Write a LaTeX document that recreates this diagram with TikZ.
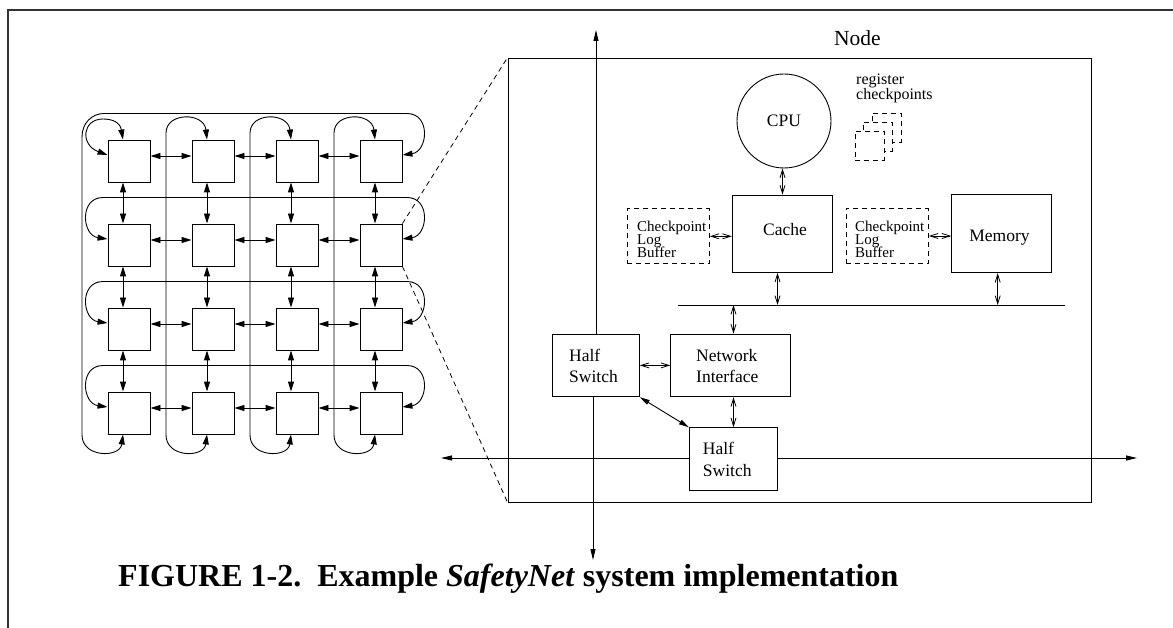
\documentclass[tikz,border=0pt]{standalone}
\usepackage{fontspec}
\setmainfont{Liberation Serif}
\usetikzlibrary{arrows.meta,calc}
\begin{document}
\begin{tikzpicture}[x=1pt,y=-1pt,
  gl/.style={line width=0.9pt},
  ga/.style={gl,{Triangle[length=10pt,width=6pt]}-{Triangle[length=10pt,width=6pt]}},
  sq/.style={draw,line width=0.9pt,minimum width=42pt,minimum height=42pt,inner sep=0pt},
  bx/.style={draw,line width=0.9pt,inner sep=0pt},
  dbx/.style={draw,line width=0.9pt,dash pattern=on 5pt off 4pt,inner sep=0pt},
  dsh/.style={line width=0.8pt,dash pattern=on 5pt off 4pt},
  oa/.style={line width=0.8pt,{Straight Barb[length=8pt,width=5pt]}-{Straight Barb[length=8pt,width=5pt]}},
  fa/.style={line width=0.9pt,-{Triangle[length=11pt,width=5pt]}},
  fda/.style={line width=0.9pt,{Triangle[length=10pt,width=5pt]}-{Triangle[length=10pt,width=5pt]}},
  lbl/.style={inner sep=0pt,anchor=base west,font=\fontsize{17.5}{21}\selectfont},
  sml/.style={inner sep=0pt,anchor=south west,align=left,font=\fontsize{15}{18}\selectfont},
]
\useasboundingbox (0,0) rectangle (1173,628);
% frame
\draw[line width=2pt,black!80] (1173,10) -- (8,10) -- (8,628);

% ---------- torus grid ----------
\foreach \i in {0,...,3}{
  \foreach \j in {0,...,3}{
    \node[sq] (n\i\j) at ({129+84*\i},{161+84*\j}) {};
  }
}
\foreach \i in {0,1,2}{
  \pgfmathtruncatemacro\k{\i+1}
  \foreach \j in {0,...,3}{
    \draw[ga] ([yshift=5pt]n\i\j.east) -- ([yshift=5pt]n\k\j.west);
    \draw[ga] ([xshift=-6pt]n\j\i.south) -- ([xshift=-6pt]n\j\k.north);
  }
}
% row wrap links
\foreach \j in {1,2,3}{
  \pgfmathsetmacro\L{113.5+84*\j}
  \draw[ga] ([yshift=6pt]n0\j.west) .. controls (82,{\L+38}) and (79,\L) .. (103,\L)
     -- (407,\L) .. controls (431,\L) and (428,{\L+38}) .. ([yshift=6pt]n3\j.east);
}
% row 0 / column 0 wrap
\draw[ga] ([yshift=6pt]n30.east) .. controls (428,151.5) and (431,113.5) .. (407,113.5)
   -- (104,113.5) .. controls (92,113.5) and (82,123) .. (82,137)
   -- (82,435) .. controls (82,458) and (120,458) .. ([xshift=-6pt]n03.south);
\draw[ga] ([xshift=-6pt]n00.north) .. controls (120,122) and (112,119) .. (103,119)
   .. controls (82,119) and (80,145) .. ([yshift=6pt]n00.west);
% column wrap links
\foreach \i in {1,2,3}{
  \pgfmathsetmacro\X{82+84*\i}
  \pgfmathsetmacro\C{120+84*\i}
  \draw[ga] ([xshift=-6pt]n\i0.north) .. controls (\C,112) and (\X,112) .. (\X,133)
     -- (\X,435) .. controls (\X,458) and (\C,458) .. ([xshift=-6pt]n\i3.south);
}

% ---------- node detail ----------
\node[bx,minimum width=583pt,minimum height=444pt] (nodebox) at (799.5,280) {};
\node[inner sep=0pt,anchor=base west,font=\fontsize{21.5}{26}\selectfont] (nodelbl) at (834,46) {Node};
\draw[dsh] (n31.north east) -- (nodebox.north west);
\draw[dsh] (n31.south east) -- (nodebox.south west);

\node[draw,circle,line width=0.9pt,minimum size=94pt,inner sep=0pt,font=\fontsize{17.5}{21}\selectfont] (cpu) at (784,121) {CPU};

\node[sml,font=\fontsize{16}{19.2}\selectfont] (reg) at (856,103.1) {register\\[-4pt]checkpoints};
\node[dbx,fill=white,minimum size=29pt] (rc3) at (886.5,127.5) {};
\node[dbx,fill=white,minimum size=29pt] (rc2) at (877.5,136.5) {};
\node[dbx,fill=white,minimum size=29pt] (rc1) at (869.5,145.5) {};

\node[bx,minimum width=100.4pt,minimum height=77.3pt] (cache) at (782.5,233.7) {};
\node[lbl,anchor=base] (cachet) at (785,236) {Cache};
\node[bx,minimum width=100pt,minimum height=77.7pt] (mem) at (1001.7,233.8) {};
\node[lbl,anchor=base] (memt) at (999.5,241.7) {Memory};

\node[dbx,minimum width=82.3pt,minimum height=54.7pt] (clb1) at (668.2,236.3) {};
\node[sml] (clb1t) at (637,258.3) {Checkpoint\\[-4.7pt]Log\\[-4.7pt]Buffer};
\node[dbx,minimum width=82.3pt,minimum height=54.6pt] (clb2) at (887.2,236) {};
\node[sml] (clb2t) at (855,258.3) {Checkpoint\\[-4.7pt]Log\\[-4.7pt]Buffer};

\node[bx,minimum width=87.3pt,minimum height=62.7pt] (hs1) at (595.7,365.4) {};
\node[lbl] (hs1a) at (569,361.7) {Half};
\node[lbl] (hs1b) at (569,382.7) {Switch};
\node[bx,minimum width=119.3pt,minimum height=62.7pt] (ni) at (730.35,365.4) {};
\node[lbl] (nia) at (696,361.7) {Network};
\node[lbl] (nib) at (696,382.7) {Interface};
\node[bx,minimum width=88.4pt,minimum height=63pt] (hs2) at (733.5,459.2) {};
\node[lbl] (hs2a) at (702.7,454.5) {Half};
\node[lbl] (hs2b) at (702.7,476) {Switch};

\coordinate (vtop) at (596,30);
\coordinate (vbot) at (593,560);
\coordinate (hleft) at (441,458);
\coordinate (hright) at (1137,458);
\coordinate (busL) at (678,305);
\coordinate (busR) at (1065,305);

\draw[fa] (hs1.north -| vtop) -- (vtop);
\draw[fa] (hs1.south -| vbot) -- (vbot);
\draw[fa] (hs2.west |- hleft) -- (hleft);
\draw[fa] (hs2.east |- hright) -- (hright);
\draw[gl] (busL) -- (busR);
\draw[oa] (hs1.east) -- (ni.west);
\draw[fda] (hs1.south east) -- (hs2.north west);
\draw[oa] (hs2.north) -- (hs2.north |- ni.south);
\draw[oa] (hs2.north |- ni.north) -- (hs2.north |- busL);
\draw[oa] ([xshift=-5pt]cache.south) -- ([xshift=-5pt]cache.south |- busL);
\draw[oa] (cache.north) -- (cache.north |- cpu.south);
\draw[oa] (clb1.east) -- (clb1.east -| cache.west);
\draw[oa] (clb2.east) -- (clb2.east -| mem.west);
\draw[oa] ([xshift=-4pt]mem.south) -- ([xshift=-4pt]mem.south |- busL);

% caption
\node[inner sep=0pt,anchor=base west,font=\fontsize{32}{36}\selectfont\bfseries] (cap) at (118,586)
  {FIGURE 1-2.\hspace{0.5em}Example \textit{SafetyNet} system implementation};
\end{tikzpicture}
\end{document}
